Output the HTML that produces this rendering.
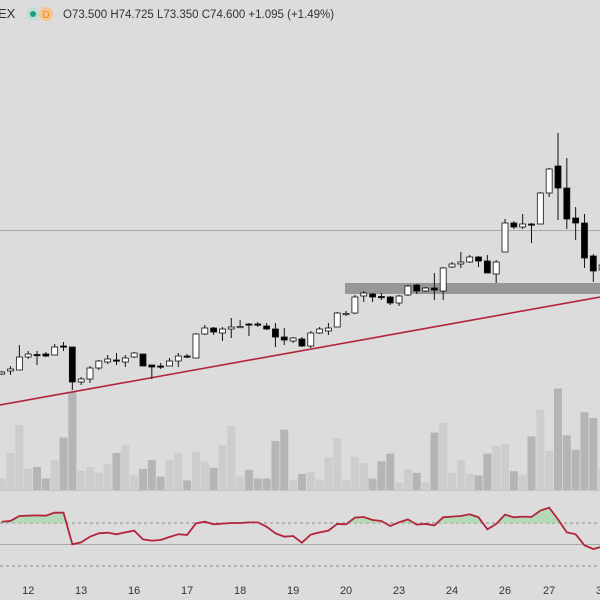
<!DOCTYPE html>
<html><head><meta charset="utf-8">
<style>
html,body{margin:0;padding:0;background:#dcdcdc;}
svg{display:block;font-family:"Liberation Sans",sans-serif;}
</style></head>
<body>
<svg id="chart" width="600" height="600" viewBox="0 0 600 600" xmlns="http://www.w3.org/2000/svg">
<rect x="0" y="0" width="600" height="600" fill="#dcdcdc"/>
<g id="vol"></g>
<line x1="0" y1="230.5" x2="600" y2="230.5" stroke="#ababab" stroke-width="1"/>
<rect x="345" y="283" width="255" height="11" fill="#979797"/>
<g id="trend"></g>
<g id="candles"></g>
<line x1="0" y1="490.5" x2="600" y2="490.5" stroke="#c4c4c4"/>
<line x1="0" y1="523" x2="600" y2="523" stroke="#8a8a8a" stroke-dasharray="3,3"/>
<line x1="0" y1="544.5" x2="600" y2="544.5" stroke="#a8a8a8"/>
<line x1="0" y1="566" x2="600" y2="566" stroke="#8a8a8a" stroke-dasharray="3,3"/>
<g id="rsi"></g>
<g id="xaxis"></g>
<g>
  <text x="-2" y="18" font-size="13" fill="#333">EX</text>
  <circle cx="33" cy="14" r="7" fill="#c4ddd5"/>
  <circle cx="33" cy="14" r="3" fill="#1f9d84"/>
  <circle cx="46" cy="14" r="7" fill="#f5c78e"/>
  <text x="46" y="18" font-size="10" fill="#e8891a" text-anchor="middle">D</text>
  <text x="63" y="18" font-size="11.5" fill="#333">O73.500 H74.725 L73.350 C74.600 +1.095 (+1.49%)</text>
</g>
</svg>
<script>
const opens  = [62.6,62.9,63.0,64.3,64.55,64.6,64.5,65.4,65.3,61.8,62.1,63.2,63.8,64.0,63.8,64.3,64.6,63.5,63.4,63.4,63.9,64.4,64.2,66.6,67.2,66.7,67.1,67.3,67.6,67.6,67.4,67.1,66.3,65.9,66.1,65.4,66.7,66.9,67.3,68.6,68.7,70.4,70.6,70.35,70.3,69.7,70.5,71.5,70.9,71.2,70.9,73.3,73.6,73.8,74.3,73.9,72.6,74.8,77.7,77.3,77.6,77.6,80.7,83.4,81.2,78.2,77.7,74.4,73.0];
const highs  = [62.9,63.4,65.5,64.9,64.9,64.8,65.6,65.8,65.3,62.3,63.4,64.0,64.5,64.7,64.5,64.8,64.6,63.5,63.7,64.2,64.7,64.6,66.7,67.5,67.3,67.3,68.2,68.0,67.7,67.8,67.7,67.7,67.2,66.3,66.3,66.9,67.3,67.7,68.8,68.9,70.5,70.9,70.7,70.7,70.4,70.5,71.5,71.6,71.3,72.7,73.3,73.8,74.8,74.5,74.4,74.5,74.0,78.1,77.9,78.6,77.7,80.8,83.2,86.7,84.2,79.3,78.6,74.6,74.7];
const lows   = [62.5,62.5,63.0,64.1,63.5,64.3,64.5,64.9,61.0,61.5,61.7,63.0,63.6,63.5,63.3,64.2,63.4,62.1,63.1,63.4,63.3,64.2,64.2,66.5,66.5,65.9,66.2,67.2,66.4,67.3,67.0,65.3,65.5,65.7,65.3,65.2,66.6,66.5,67.3,68.4,68.6,69.8,69.8,70.0,69.5,69.4,70.4,70.6,70.8,70.0,70.0,73.2,73.2,73.7,73.3,72.7,71.7,74.8,77.1,77.1,75.7,77.6,80.3,78.0,77.1,76.0,73.2,71.8,72.8];
const closes = [62.8,63.1,64.3,64.6,64.45,64.4,65.3,65.35,61.8,62.1,63.2,63.9,64.1,63.9,64.2,64.7,63.4,63.3,63.35,63.9,64.4,64.3,66.6,67.2,66.8,67.1,67.3,67.35,67.55,67.55,67.1,66.3,66.0,66.2,65.4,66.7,67.1,67.2,68.7,68.65,70.3,70.7,70.3,70.3,69.7,70.4,71.4,70.9,71.2,71.0,73.2,73.6,73.8,74.3,73.9,72.7,73.8,77.7,77.3,77.6,77.55,80.7,83.1,81.2,78.1,77.7,74.2,72.9,73.5];
const volumes = [30,97,170,55,60,30,77,137,256,50,60,45,67,97,117,40,55,78,35,78,97,25,100,75,58,117,168,35,53,30,30,128,158,27,42,48,28,85,135,27,87,70,30,75,95,20,55,45,20,150,175,45,78,42,38,95,115,120,49,40,140,210,102,265,143,105,203,188,55];
const rsiValues = [71.2,71.9,76.5,76.8,77.1,76.8,79.6,79.6,50.2,52.0,57.3,60.4,61.0,59.5,61.3,62.9,54.8,53.6,54.2,57.0,59.5,58.9,69.7,71.2,68.8,69.4,70.0,70.0,70.6,70.6,66.6,60.4,57.3,57.9,51.7,59.2,61.3,62.9,69.1,68.8,75.0,75.6,72.8,71.9,67.2,70.6,73.4,68.5,69.1,67.8,75.3,75.9,76.5,78.1,75.3,64.1,69.1,77.8,75.3,75.9,75.6,81.5,84.3,73.4,61.3,59.5,49.2,45.8,48.0];
const tickIndex = [3,9,15,21,27,33,39,45,51,57,62,68];
const tickLabels = ["12","13","16","17","18","19","20","23","24","26","27","30"];
const trendStart = [-0.2, 59.5];
const trendEnd = [67.8, 70.3];

const NS = "http://www.w3.org/2000/svg";
function xAt(i){ return 1.7 + 8.83*i; }
function yPrice(p){ return (100 - p)*10; }
function yVol(v){ return 490 - v/2.613; }
function yRsi(r){ return 523 + (70 - r)*43/40; }
function mk(tag, attrs, parent){
  const el = document.createElementNS(NS, tag);
  for (const k in attrs) el.setAttribute(k, attrs[k]);
  parent.appendChild(el);
  return el;
}

const volG = document.getElementById('vol');
volumes.forEach((v,i)=>{
  const down = closes[i] < opens[i];
  const r = mk('rect', {x: xAt(i)-4, y: yVol(v), width: 8, height: 490 - yVol(v), fill: down ? '#b5b5b5' : '#cdcdcd'}, volG);
  
  
});

const tg = document.getElementById('trend');
const tl = mk('line', {x1: xAt(trendStart[0]), y1: yPrice(trendStart[1]), x2: xAt(trendEnd[0]), y2: yPrice(trendEnd[1]), stroke: '#b3243b', 'stroke-width': 1.6}, tg);



const cg = document.getElementById('candles');
opens.forEach((o,i)=>{
  const c = closes[i], x = xAt(i);
  const up = c >= o;
  const g = mk('g', {}, cg);
  
  
  mk('line', {x1: x, x2: x, y1: yPrice(highs[i]), y2: yPrice(lows[i]), stroke: '#111', 'stroke-width': 1}, g);
  const top = yPrice(Math.max(o,c)), bot = yPrice(Math.min(o,c));
  mk('rect', {x: x-3, y: top, width: 6, height: Math.max(bot-top, 1.2), fill: up ? '#ffffff' : '#000000', stroke: '#111', 'stroke-width': 0.8}, g);
});

const rg = document.getElementById('rsi');
const pts = rsiValues.map((r,i)=>[xAt(i), yRsi(r)]);
// green fill above 70
let fillD = '';
const y70 = yRsi(70);
for (let i=0;i<pts.length-1;i++){
  const [x1,y1]=pts[i],[x2,y2]=pts[i+1];
  if (y1<y70 || y2<y70){
    let ax=x1, ay=y1, bx=x2, by=y2;
    if (ay>y70){ const t=(ay-y70)/(ay-by); ax=x1+(x2-x1)*t; ay=y70; }
    if (by>y70){ const t=(y70-ay)/(by-ay); bx=ax+(x2-ax)*t; by=y70; }
    fillD += `M${ax},${y70} L${ax},${ay} L${bx},${by} L${bx},${y70} Z `;
  }
}
const fp = mk('path', {d: fillD, fill: '#a9d8b0', opacity: 0.8}, rg);


const rl = mk('polyline', {points: pts.map(p=>p.join(',')).join(' '), fill: 'none', stroke: '#b3243b', 'stroke-width': 1.8}, rg);



const xg = document.getElementById('xaxis');
tickIndex.forEach((ti,k)=>{
  const t = mk('text', {x: xAt(ti), y: 594, 'font-size': 11, fill: '#333', 'text-anchor': 'middle'}, xg);
  t.textContent = tickLabels[k];
  
  
});
</script>
</body></html>
